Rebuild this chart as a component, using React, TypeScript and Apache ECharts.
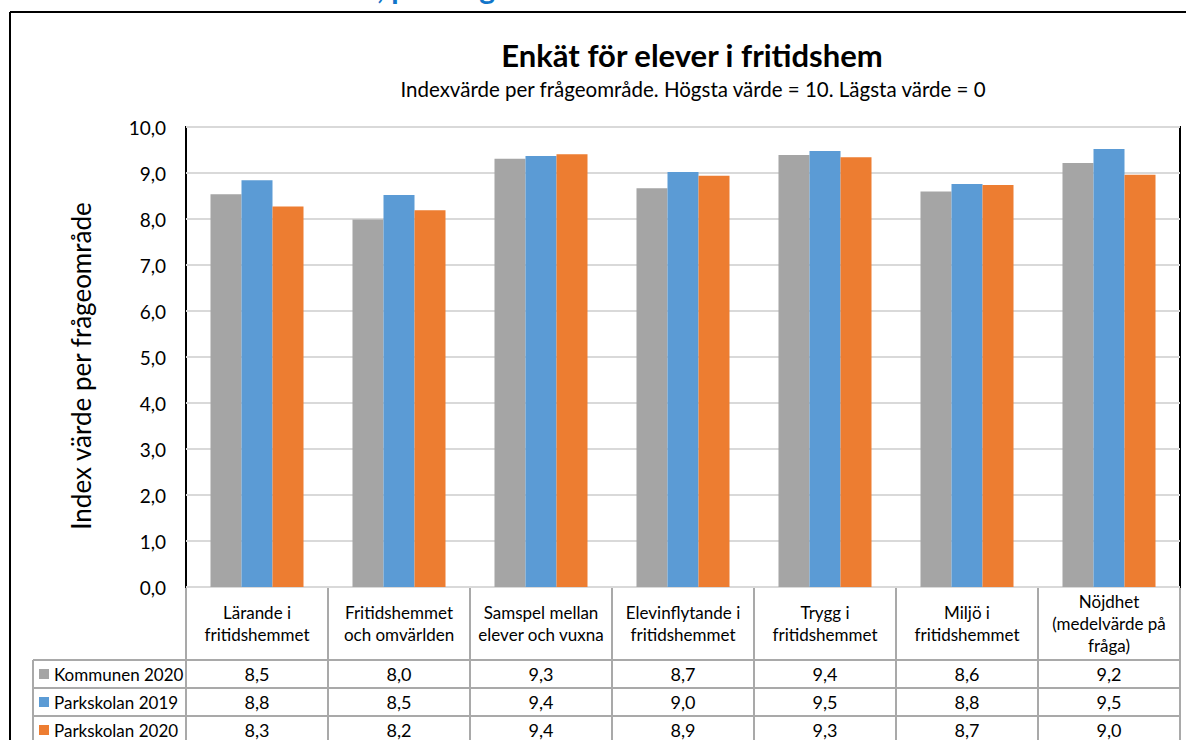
import React, { useEffect, useRef } from "react";
import * as echarts from "echarts";

const categories = [
  "Lärande i\nfritidshemmet",
  "Fritidshemmet\noch omvärlden",
  "Samspel mellan\nelever och vuxna",
  "Elevinflytande i\nfritidshemmet",
  "Trygg i\nfritidshemmet",
  "Miljö i\nfritidshemmet",
  "Nöjdhet\n(medelvärde på\nfråga)",
];
const seriesNames = ["Kommunen 2020", "Parkskolan 2019", "Parkskolan 2020"];
const kommunen2020 = [8.54, 7.99, 9.31, 8.67, 9.39, 8.6, 9.22];
const parkskolan2019 = [8.84, 8.52, 9.37, 9.02, 9.48, 8.76, 9.52];
const parkskolan2020 = [8.27, 8.19, 9.41, 8.94, 9.34, 8.74, 8.96];
const seriesColors = ["#A5A5A5", "#5B9BD5", "#ED7D31"];
const yMin = 0;
const yMax = 10;
const yStep = 1;

const titleText = "Enkät för elever i fritidshem";
const subtitleText = "Indexvärde per frågeområde. Högsta värde = 10. Lägsta värde = 0";
const yAxisName = "Index värde per frågeområde";
const headingLeft = "Resultat för Parkskolan,";
const headingRight = " per frågeområde";

const FONT = "Lato, 'Noto Sans', sans-serif";
const fmt = (v: number) => v.toFixed(1).replace(".", ",");

export default function App() {
  const ref = useRef<HTMLDivElement>(null);
  useEffect(() => {
    if (!ref.current) return;
    const chart = echarts.init(ref.current, undefined, { renderer: "svg" });
    const gridLeft = 186;
    const gridRight = 1180;
    const gridTop = 127;
    const gridBottom = 587;
    const colW = (gridRight - gridLeft) / categories.length;
    const rowLines = [660, 688, 716];
    const tableColor = "#A9A9A9";
    const graphics: any[] = [];
    // outer frame
    graphics.push({ type: "line", shape: { x1: 10, y1: 12, x2: 1200, y2: 12 }, style: { stroke: "#000", lineWidth: 2 } });
    graphics.push({ type: "line", shape: { x1: 10, y1: 12, x2: 10, y2: 760 }, style: { stroke: "#000", lineWidth: 2 } });
    // table lines
    for (let k = 0; k <= categories.length; k++) {
      const x = gridLeft + colW * k;
      graphics.push({ type: "line", shape: { x1: x, y1: gridBottom + 1, x2: x, y2: 760 }, style: { stroke: tableColor, lineWidth: 2 } });
    }
    rowLines.forEach((y) => {
      graphics.push({ type: "line", shape: { x1: 33, y1: y, x2: gridRight, y2: y }, style: { stroke: tableColor, lineWidth: 2 } });
    });
    graphics.push({ type: "line", shape: { x1: 33, y1: rowLines[0], x2: 33, y2: 760 }, style: { stroke: tableColor, lineWidth: 2 } });
    // cut-off heading at the top of the page
    graphics.push({
      type: "text", x: 384, y: 2,
      style: { text: headingLeft, textAlign: "right", textVerticalAlign: "bottom", fill: "#1275C9", font: `bold 30px ${FONT}` },
    });
    graphics.push({
      type: "text", x: 384, y: 2,
      style: { text: headingRight, textAlign: "left", textVerticalAlign: "bottom", fill: "#1275C9", font: `bold 30px ${FONT}` },
    });
    // titles
    graphics.push({
      type: "text", x: 692, y: 55,
      style: { text: titleText, textAlign: "center", textVerticalAlign: "middle", fill: "#000", font: `bold 31px ${FONT}` },
    });
    graphics.push({
      type: "text", x: 693, y: 89,
      style: { text: subtitleText, textAlign: "center", textVerticalAlign: "middle", fill: "#000", font: `20.5px ${FONT}` },
    });

    const rowData = [kommunen2020, parkskolan2019, parkskolan2020];
    const rowAxes = rowData.map((vals, i) => ({
      type: "category",
      gridIndex: 0,
      position: "bottom",
      data: vals.map(fmt),
      axisLine: { show: false },
      axisTick: { show: false },
      splitLine: { show: false },
      axisLabel: {
        interval: 0,
        margin: rowLines[0] + 14 + 28 * i - gridBottom,
        verticalAlign: "middle",
        fontSize: 18,
        fontFamily: FONT,
        color: "#000",
      },
    }));

    chart.setOption({
      animation: false,
      grid: {
        left: gridLeft,
        right: 1186 - gridRight,
        top: gridTop,
        bottom: 740 - gridBottom,
        show: true,
        borderColor: "#000",
        borderWidth: 2,
        backgroundColor: "transparent",
      },
      legend: {
        orient: "vertical",
        left: 39,
        top: rowLines[0] + 5,
        padding: 0,
        itemGap: 10,
        itemWidth: 10,
        itemHeight: 10,
        icon: "rect",
        selectedMode: false,
        data: seriesNames,
        textStyle: { fontSize: 17, lineHeight: 18, color: "#000", fontFamily: FONT },
      },
      xAxis: [
        {
          type: "category",
          gridIndex: 0,
          position: "bottom",
          data: categories,
          axisLine: { show: false },
          axisTick: { show: false },
          axisLabel: {
            interval: 0,
            margin: (gridBottom + rowLines[0]) / 2 - gridBottom,
            verticalAlign: "middle",
            lineHeight: 22,
            fontSize: 17,
            fontFamily: FONT,
            color: "#000",
          },
        },
        ...rowAxes,
      ],
      yAxis: {
        type: "value",
        min: yMin,
        max: yMax,
        interval: yStep,
        name: yAxisName,
        nameLocation: "middle",
        nameRotate: 90,
        nameGap: 92,
        nameTextStyle: { fontSize: 26, color: "#000", fontFamily: FONT, padding: [0, 18, 0, 0] },
        axisLine: { show: false },
        axisTick: { show: false },
        axisLabel: { formatter: (v: number) => fmt(v), fontSize: 19, color: "#000", fontFamily: FONT, margin: 20 },
        splitLine: { lineStyle: { color: "#D9D9D9", width: 2 } },
      },
      series: [kommunen2020, parkskolan2019, parkskolan2020].map((d, i) => ({
        name: seriesNames[i],
        type: "bar",
        xAxisIndex: 0,
        data: d,
        barGap: "0%",
        barCategoryGap: "34.5%",
        itemStyle: { color: seriesColors[i] },
      })),
      graphic: graphics,
    });
    return () => chart.dispose();
  }, []);
  return <div ref={ref} style={{ position: "absolute", left: 0, top: 0, width: 1186, height: 740, background: "#fff" }} />;
}
